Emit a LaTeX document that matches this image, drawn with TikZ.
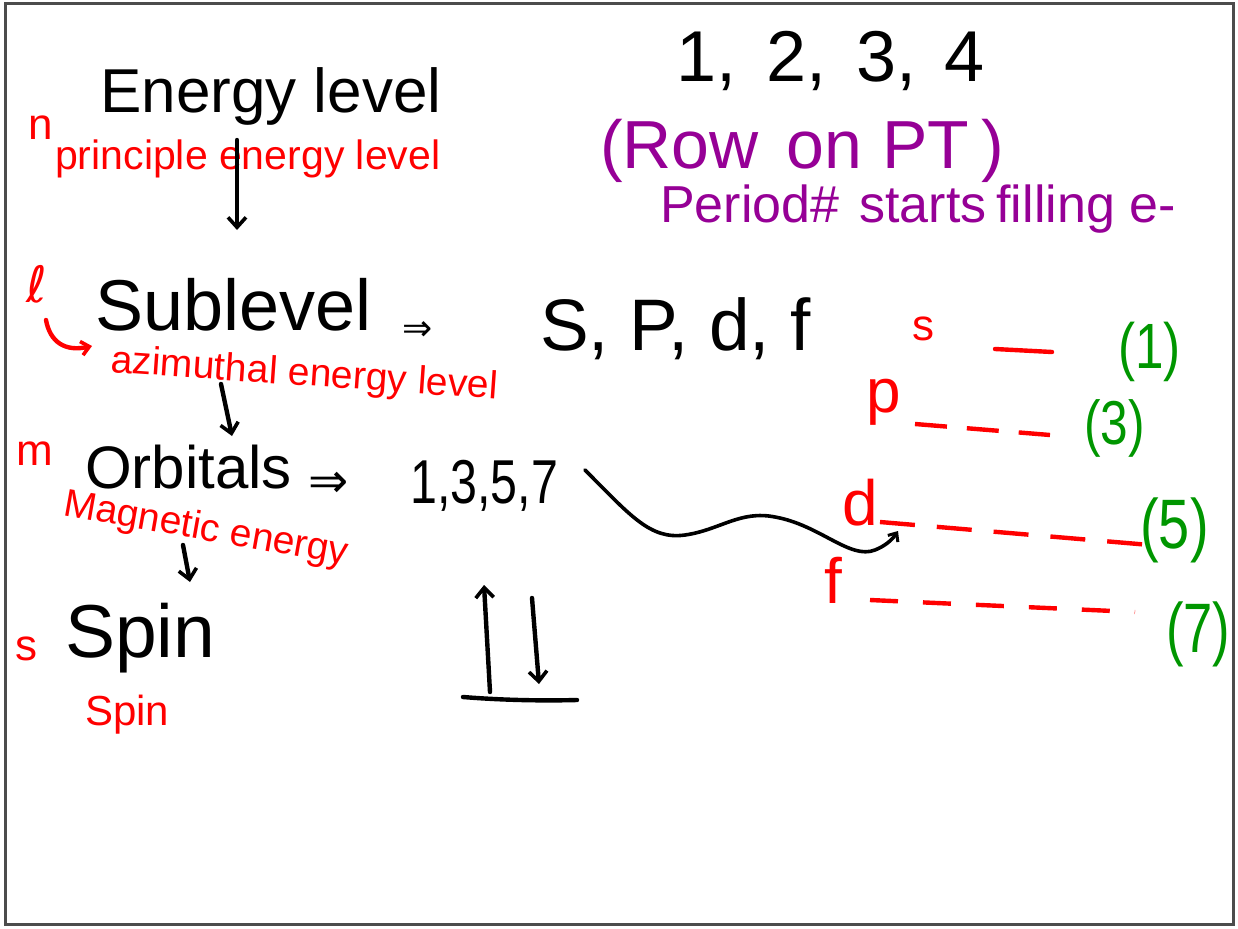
\documentclass[tikz,border=0pt]{standalone}
\usepackage{fontspec}
\usepackage{graphicx}
\setmainfont{Liberation Sans}
\newfontfamily\symfont{DejaVu Sans}
\usetikzlibrary{arrows.meta}
\definecolor{myPurple}{RGB}{150,0,150}
\definecolor{myGreen}{RGB}{0,150,0}
\newcommand{\fsz}[1]{\fontsize{#1}{#1}\selectfont}
\begin{document}
\begin{tikzpicture}[x=1pt,y=-1pt,
  hw/.style={inner sep=0pt, anchor=base west},
  blk/.style={hw,text=black},
  rd/.style={hw,text=red},
  pu/.style={hw,text=myPurple},
  gr/.style={hw,text=myGreen},
  ink/.style={line width=4.4pt,line cap=round,line join=round},
  arr/.style={ink,draw=black,-{Straight Barb[length=10pt,width=18pt,line width=3.6pt]}},
  rarr/.style={ink,draw=red,-{Straight Barb[length=8pt,width=14pt,line width=3.6pt]}},
  rdash/.style={ink,draw=red,line cap=butt}
]
\useasboundingbox (0,0) rectangle (1238,928);
\fill[white] (0,0) rectangle (1238,928);
\draw[line width=3pt,draw=black!70] (5,4) rectangle (1233,924);

% left column
\node[blk] (energy) at (100,113) {\fsz{62}Energy level};
\node[rd] (nlab) at (28,140) {\fsz{44}n};
\node[rd] (pel) at (55,170) {\fsz{41}principle energy level};
\coordinate (a1s) at (237,140);
\coordinate (a1e) at (237,230);
\draw[arr] (a1s) -- (a1e);

\node[rd] (llab) at (26,302) {\fsz{50}\symfont ℓ};
\node[blk] (sub) at (95,330) {\fsz{72}Sublevel};
\node[blk] (imp1) at (402,340) {\fsz{36}\symfont ⇒};
\node[blk] (spdf) at (540,350) {\fsz{73}S, P, d, f};
\coordinate (hk1) at (46,320);
\coordinate (hk2) at (92,346);
\draw[rarr] (hk1) .. controls (50,342) and (65,352) .. (hk2);
\node[rd,rotate=-4] (azi) at (110,372) {\fsz{39}azimuthal energy level};
\coordinate (a2s) at (221,384);
\coordinate (a2e) at (232,436);
\draw[arr] (a2s) -- (a2e);

\node[rd] (mlab) at (16,465) {\fsz{44}m};
\node[blk] (orb) at (85,488) {\fsz{60}Orbitals};
\node[blk] (imp2) at (308,497) {\fsz{48}\symfont ⇒};
\node[blk] (odd) at (410,503) {\scalebox{0.78}[1]{\fsz{62}1,3,5,7}};
\node[rd,rotate=-10] (mag) at (62,515) {\fsz{39}Magnetic energy};
\coordinate (a3s) at (183,545);
\coordinate (a3e) at (190,582);
\draw[arr] (a3s) -- (a3e);

\node[rd] (slab) at (15,660) {\fsz{44}s};
\node[blk] (spin) at (65,657) {\fsz{75}Spin};
\node[rd] (spinr) at (85,725) {\fsz{42}Spin};

% spin arrows
\coordinate (upS) at (490,692);
\coordinate (upE) at (484,585);
\coordinate (dnS) at (532,598);
\coordinate (dnE) at (539,684);
\coordinate (bl) at (463,697);
\coordinate (br) at (577,700);
\draw[arr] (upS) -- (upE);
\draw[arr] (dnS) -- (dnE);
\draw[ink] (bl) .. controls (500,700) and (540,701) .. (br);

% top right
\node[blk] (nums) at (676,82) {\fsz{72}1,\hspace{30pt}2,\hspace{30pt}3,\hspace{28pt}4};
\node[pu] (row) at (600,168) {\fsz{68}(Row\hspace{28pt}on\hspace{20pt}PT\hspace{12pt})};
\node[pu] (period) at (660,222) {\fsz{52}Period\#\hspace{20pt}starts\hspace{10pt}filling e-};

% sublevel boxes
\node[rd] (sr) at (912,340) {\fsz{44}s};
\node[rd] (pr) at (866,412) {\fsz{62}p};
\node[rd] (dr) at (842,525) {\fsz{64}d};
\node[rd] (fr) at (824,603) {\fsz{64}f};
\coordinate (sl1) at (995,349);
\coordinate (sl2) at (1052,352);
\coordinate (pl1) at (915,424);
\coordinate (pl2) at (1050,435);
\coordinate (dl1) at (880,522);
\coordinate (dl2) at (1150,545);
\coordinate (fl1) at (870,600);
\coordinate (fl2) at (1135,612);
\draw[ink,draw=red] (sl1) -- (sl2);
\draw[rdash,dash pattern=on 32pt off 20pt] (pl1) -- (pl2);
\draw[rdash,dash pattern=on 35pt off 22pt] (dl1) -- (dl2);
\draw[rdash,dash pattern=on 28pt off 25pt] (fl1) -- (fl2);
\node[gr] (g1) at (1118,368) {\scalebox{0.8}[1]{\fsz{64}(1)}};
\node[gr] (g3) at (1084,444) {\scalebox{0.8}[1]{\fsz{62}(3)}};
\node[gr] (g5) at (1140,548) {\scalebox{0.8}[1]{\fsz{70}(5)}};
\node[gr] (g7) at (1166,652) {\scalebox{0.75}[1]{\fsz{70}(7)}};

% wavy arrow from orbitals to d
\coordinate (w0) at (585,470);
\coordinate (w1) at (685,535);
\coordinate (w2) at (775,517);
\coordinate (w3) at (875,550);
\coordinate (w4) at (898,531);
\draw[ink,line width=3.6pt,draw=black,-{Straight Barb[length=7pt,width=12pt,line width=3pt]}]
  (w0) .. controls (630,515) and (650,540) .. (w1)
  .. controls (720,530) and (740,510) .. (w2)
  .. controls (820,525) and (850,560) .. (w3)
  .. controls (885,546) and (892,540) .. (w4);
\end{tikzpicture}
\end{document}
